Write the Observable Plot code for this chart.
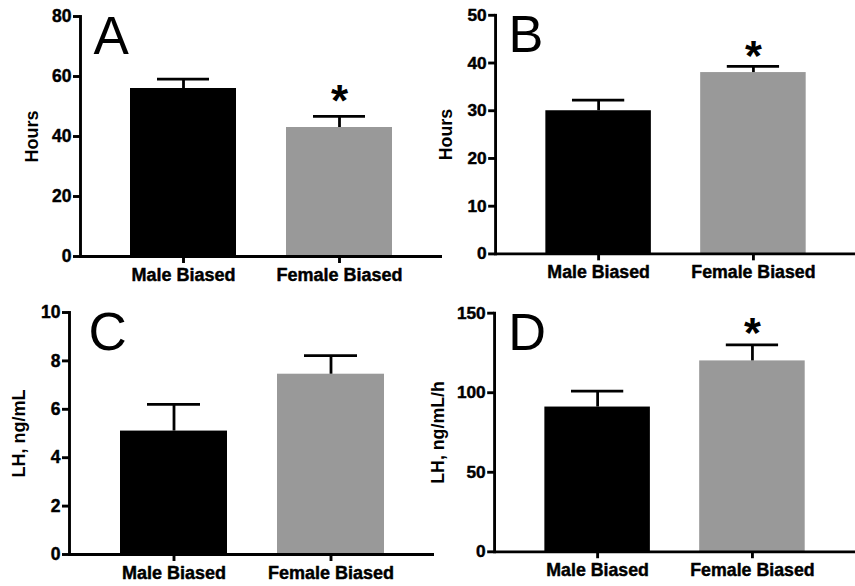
<!DOCTYPE html>
<html>
<head>
<meta charset="utf-8">
<script src="https://cdn.jsdelivr.net/npm/d3@7"></script>
<script src="https://cdn.jsdelivr.net/npm/@observablehq/plot@0.6"></script>
<style>
  html, body { margin: 0; padding: 0; background: #fff; overflow: hidden; }
  #wrap { position: relative; width: 855px; height: 586px; }
  #wrap > div { position: absolute; }
</style>
</head>
<body>
<div id="wrap"></div>
<script>
// ---- data ----
const categories = ["Male Biased", "Female Biased"];
const barColors = ["#000000", "#999999"];

const panelLetters = ["A", "B", "C", "D"];
const yLabels = ["Hours", "Hours", "LH, ng/mL", "LH, ng/mL/h"];

const meansA = [56, 43];
const semA = [3.1, 3.7];
const sigA = [false, true];
const ticksA = [0, 20, 40, 60, 80];

const meansB = [30, 38];
const semB = [2.2, 1.3];
const sigB = [false, true];
const ticksB = [0, 10, 20, 30, 40, 50];

const meansC = [5.1, 7.45];
const semC = [1.1, 0.77];
const sigC = [false, false];
const ticksC = [0, 2, 4, 6, 8, 10];

const meansD = [91, 120];
const semD = [10, 10];
const sigD = [false, true];
const ticksD = [0, 50, 100, 150];

// ---- layout ----
const font = "'Liberation Sans', Arial, Helvetica, sans-serif";
const panels = [
  {letter: panelLetters[0], ylabel: yLabels[0], means: meansA, sem: semA, sig: sigA, ticks: ticksA,
   left: 0, top: 0, width: 442, height: 290, mL: 80, mT: 16, mB: 34, labelDx: -48, letterDx: 13, starDy: -14},
  {letter: panelLetters[1], ylabel: yLabels[1], means: meansB, sem: semB, sig: sigB, ticks: ticksB,
   left: 428, top: 0, width: 433, height: 290, mL: 68, mT: 15, mB: 33, labelDx: -50, letterDx: 13, starDy: -10},
  {letter: panelLetters[2], ylabel: yLabels[2], means: meansC, sem: semC, sig: sigC, ticks: ticksC,
   left: 0, top: 290, width: 434, height: 296, mL: 69, mT: 22, mB: 32, labelDx: -50, letterDx: 19, starDy: -12},
  {letter: panelLetters[3], ylabel: yLabels[3], means: meansD, sem: semD, sig: sigD, ticks: ticksD,
   left: 428, top: 290, width: 433, height: 296, mL: 67, mT: 23, mB: 31, labelDx: -57, letterDx: 14, starDy: -12}
];

const wrap = document.getElementById("wrap");
const heavy = {fontWeight: "bold", textStroke: "#000", textStrokeWidth: 0.45};

for (const p of panels) {
  const data = categories.map((c, i) => ({
    category: c,
    mean: p.means[i],
    top: p.means[i] + p.sem[i],
    sig: p.sig[i]
  }));
  const yMax = p.ticks[p.ticks.length - 1];
  const chart = Plot.plot({
    width: p.width,
    height: p.height,
    marginLeft: p.mL,
    marginRight: 0,
    marginTop: p.mT,
    marginBottom: p.mB,
    style: {background: "transparent", fontFamily: font, color: "#000", overflow: "visible"},
    x: {domain: categories, padding: 0.32, label: null, axis: null},
    y: {domain: [0, yMax], label: null, axis: null},
    color: {domain: categories, range: barColors},
    marks: [
      Plot.barY(data, {x: "category", y: "mean", fill: "category"}),
      Plot.ruleX(data, {x: "category", y1: "mean", y2: "top", stroke: "#000", strokeWidth: 2.8}),
      Plot.tickY(data, {x: "category", y: "top", stroke: "#000", strokeWidth: 2.8, insetLeft: 27, insetRight: 27}),
      Plot.text(data.filter(d => d.sig), {x: "category", y: "top", text: () => "*", dy: p.starDy,
        fontSize: 44, fontWeight: "bold", lineAnchor: "middle", fill: "#000"}),
      Plot.ruleY([0], {stroke: "#000", strokeWidth: 2.9}),
      Plot.frame({anchor: "left", stroke: "#000", strokeWidth: 2.9}),
      Plot.axisX({tickSize: 7, tickPadding: 5, strokeWidth: 2.9, fontSize: 18, label: null, ...heavy}),
      Plot.axisY({ticks: p.ticks, tickSize: 7, tickPadding: 2, strokeWidth: 2.9, fontSize: 17.5, label: null, ...heavy}),
      Plot.text([p.ylabel], {frameAnchor: "left", rotate: -90, dx: p.labelDx, fontSize: 18, ...heavy,
        textAnchor: "middle", lineAnchor: "middle", fill: "#000"}),
      Plot.text([p.letter], {frameAnchor: "top-left", dx: p.letterDx, dy: 0, fontSize: 53, textAnchor: "start",
        lineAnchor: "top", fill: "#000"})
    ]
  });
  const holder = document.createElement("div");
  holder.style.left = p.left + "px";
  holder.style.top = p.top + "px";
  holder.appendChild(chart);
  wrap.appendChild(holder);
}
</script>
</body>
</html>
